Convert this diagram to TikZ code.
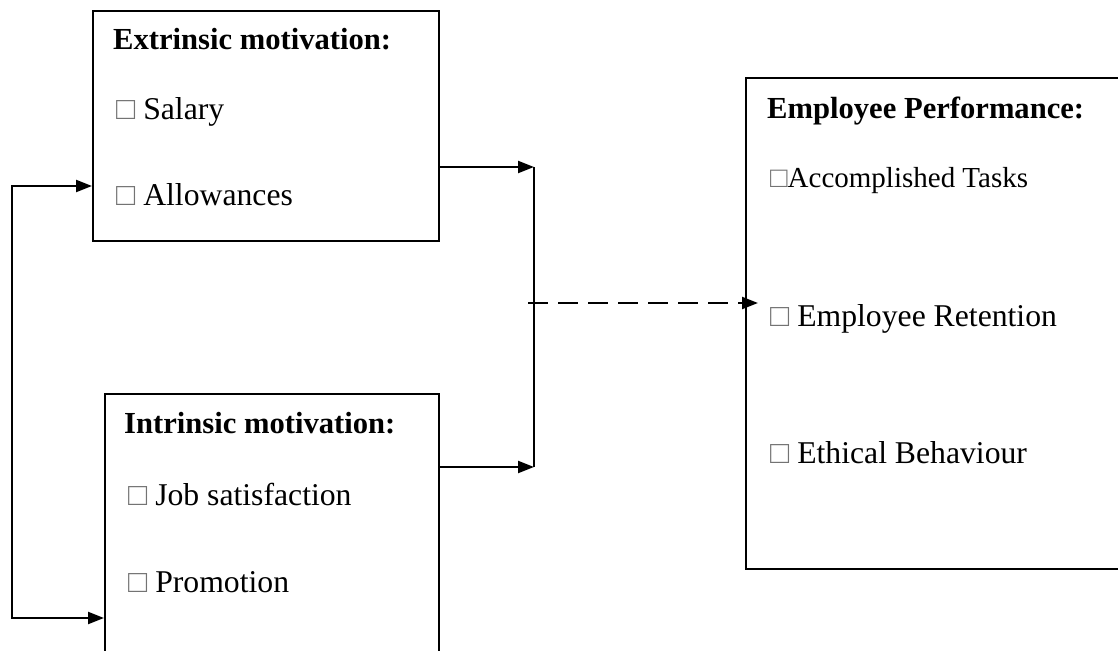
\documentclass[tikz,border=0pt]{standalone}
\usepackage{fontspec}
\setmainfont{Liberation Serif}
\usetikzlibrary{arrows.meta}
\newcommand{\sqg}{{\color{black!55}□}}
\tikzset{
  box/.style={draw=black, line width=2pt, rectangle, anchor=north west, inner sep=0pt},
  ttl/.style={anchor=base west, inner sep=0pt, font=\fontsize{30.6}{36}\selectfont\bfseries},
  itm/.style={anchor=base west, inner sep=0pt, font=\fontsize{31.7}{36}\selectfont},
  itms/.style={anchor=base west, inner sep=0pt, font=\fontsize{29}{34}\selectfont},
  conn/.style={line width=2.2pt},
  tip/.tip={Triangle[length=16pt,width=12pt]},
  arr/.style={conn, -tip},
}
\begin{document}
\begin{tikzpicture}[x=1pt,y=-1pt]
\clip (0,0) rectangle (1118,650);
\fill[white] (0,0) rectangle (1118,650);
% boxes
\node[box, minimum width=346pt, minimum height=230pt] (ext) at (92,10) {};
\node[box, minimum width=334pt, minimum height=280pt] (int) at (104,393) {};
\node[box, minimum width=400pt, minimum height=491pt] (perf) at (745,77) {};
% texts
\node[ttl] (t1) at (113,50) {Extrinsic motivation:};
\node[itm] (e1) at (116,120) {\sqg\ Salary};
\node[itm] (e2) at (116,205) {\sqg\ Allowances};
\node[ttl] (t2) at (124,433) {Intrinsic motivation:};
\node[itm] (i1) at (128,505) {\sqg\ Job satisfaction};
\node[itm] (i2) at (128,592) {\sqg\ Promotion};
\node[ttl] (t3) at (767,118) {Employee Performance:};
\node[itms] (p1) at (770,187) {\sqg Accomplished Tasks};
\node[itm] (p2) at (770,326) {\sqg\ Employee Retention};
\node[itm] (p3) at (770,463) {\sqg\ Ethical Behaviour};
% connector coordinates
\coordinate (la) at (12,186);
\coordinate (lb) at (12,618);
\coordinate (ja) at (534,167);
\coordinate (jb) at (534,467);
\coordinate (da) at (528,303);
\coordinate (db) at (758,303);
% left feedback loop
\draw[conn, tip-tip] (ext.west |- la) -- (la) -- (lb) -- (int.west |- lb);
% to junction
\draw[arr] (ext.east |- ja) -- (ja);
\draw[arr] (int.east |- jb) -- (jb);
\draw[conn] (ja) -- (jb);
% dashed to performance
\draw[arr, dash pattern=on 20pt off 10pt] (da) -- (db);
\end{tikzpicture}
\end{document}
